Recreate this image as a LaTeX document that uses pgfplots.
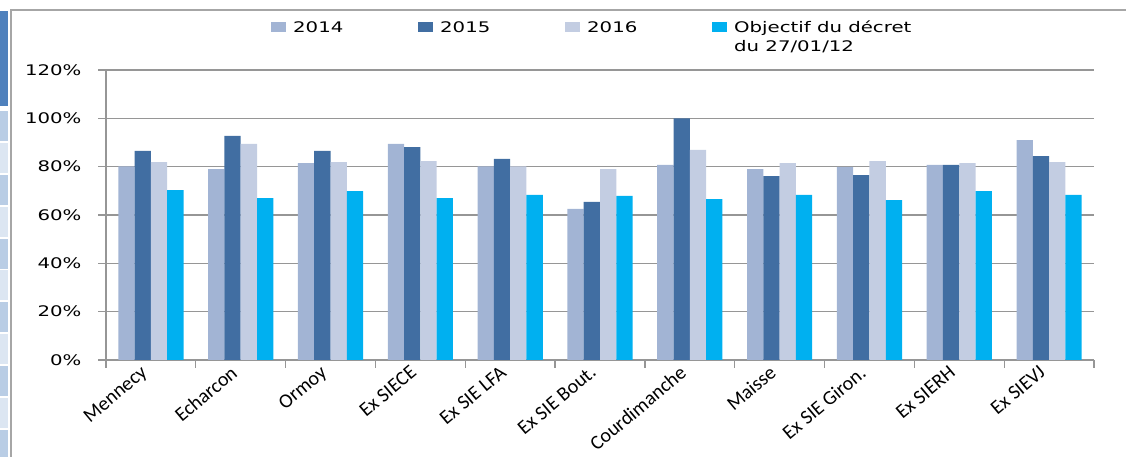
\documentclass[border=0pt]{standalone}
\usepackage{pgfplots}
\pgfplotsset{compat=1.18}
\usepackage{fontspec}
\setmainfont{Carlito}
\newfontfamily\tickfont[FakeStretch=1.35]{DejaVu Sans}
\newfontfamily\labfont{Carlito}
\definecolor{cA}{HTML}{A2B4D4}
\definecolor{cB}{HTML}{416EA2}
\definecolor{cC}{HTML}{C3CDE2}
\definecolor{cD}{HTML}{00B0F0}
\definecolor{gridc}{HTML}{969696}
\definecolor{framec}{HTML}{A6A6A6}
\definecolor{decoD}{HTML}{4F81BD}
\definecolor{decoM}{HTML}{B9CDE5}
\definecolor{decoL}{HTML}{DCE6F2}
\begin{document}
\begin{tikzpicture}[x=1pt,y=1pt]
\useasboundingbox (-106,-97) rectangle (1020,360);
% slide decoration strip and chart frame
\fill[decoD] (-106,349) rectangle (-98,254);
\foreach \t/\c in {249/decoM,217/decoL,185/decoM,153/decoL,121/decoM,90/decoL,58/decoM,26/decoL,-6/decoM,-38/decoL,-70/decoM}{
  \fill[\c] (-106,\t) rectangle (-98,\t-30);
}
\draw[framec, line width=2pt] (-95,-97) -- (-95,350) -- (1020,350);
\begin{axis}[
  at={(0pt,0pt)}, anchor=south west,
  scale only axis, width=988pt, height=290pt,
  ybar=0pt, bar width=16.3pt,
  xmin=-0.5, xmax=10.5, ymin=0, ymax=120,
  axis x line=bottom, axis y line=left,
  axis line style={draw=gridc, line width=1.3pt, -},
  tick align=outside, major tick length=8pt,
  tick style={draw=gridc, line width=1.3pt},
  ytick={0,20,...,120},
  yticklabels={0\%,20\%,40\%,60\%,80\%,100\%,120\%},
  yticklabel style={font=\tickfont\fontsize{14.6}{17}\selectfont, text=black, xshift=-13pt},
  ymajorgrids, grid style={draw=gridc, line width=1.3pt},
  xtick={-0.5,0.5,...,10.5}, xticklabels={},
  extra x ticks={0,1,2,3,4,5,6,7,8,9,10},
  extra x tick labels={Mennecy,Echarcon,Ormoy,Ex SIECE,Ex SIE LFA,Ex SIE Bout.,Courdimanche,Maisse,Ex SIE Giron.,Ex SIERH,Ex SIEVJ},
  extra x tick style={major tick length=0pt, grid=none,
    tick label style={xshift=-11pt, yshift=-3pt, rotate=40, anchor=north east, font=\labfont\fontsize{20}{23}\selectfont, text=black, inner sep=1pt}},
  legend columns=4,
  legend cell align=left,
  legend style={at={(axis description cs:0.167,1.1466)}, anchor=west, draw=none, fill=none, inner sep=0pt,
    font=\tickfont\fontsize{14.6}{17}\selectfont,
    nodes={inner sep=0pt},
    /tikz/every odd column/.style={column sep=7pt}},
  legend image code/.code={\fill[#1] (0pt,-5pt) rectangle (15pt,5pt);},
]
\addplot[fill=cA, draw=none] coordinates {(0,80.1) (1,79.0) (2,81.5) (3,89.4) (4,80.1) (5,62.5) (6,80.7) (7,79.0) (8,79.9) (9,80.7) (10,91.0)};
\addplot[fill=cB, draw=none] coordinates {(0,86.5) (1,92.7) (2,86.5) (3,88.1) (4,83.2) (5,65.4) (6,100.0) (7,76.1) (8,76.5) (9,80.7) (10,84.4)};
\addplot[fill=cC, draw=none] coordinates {(0,81.9) (1,89.4) (2,81.9) (3,82.3) (4,80.1) (5,79.0) (6,86.9) (7,81.5) (8,82.3) (9,81.5) (10,81.9)};
\addplot[fill=cD, draw=none] coordinates {(0,70.3) (1,67.0) (2,69.9) (3,67.0) (4,68.3) (5,67.9) (6,66.6) (7,68.3) (8,66.2) (9,69.9) (10,68.3)};
\addlegendentry{\makebox[125pt][l]{2014}}
\addlegendentry{\makebox[125pt][l]{2015}}
\addlegendentry{\makebox[125pt][l]{2016}}
\addlegendentry{\rlap{\raisebox{-19pt}[0pt][0pt]{du 27/01/12}}Objectif du décret}
\end{axis}
\end{tikzpicture}
\end{document}
